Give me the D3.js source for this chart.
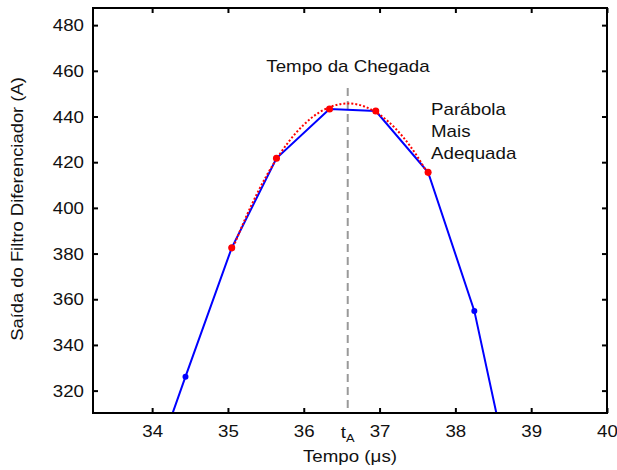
<!DOCTYPE html>
<html><head><meta charset="utf-8">
<script src="https://cdn.jsdelivr.net/npm/d3@7"></script>
<style>body{margin:0;background:#fff}svg{display:block;font-family:Arial,"Liberation Sans",sans-serif}</style>
</head><body>
<svg id="c" width="617" height="470"></svg>
<script>
// Sampled signal (blue)
const sampleTime = [33.80, 34.44, 35.05, 35.64, 36.34, 36.95, 37.64, 38.25, 38.90];
const sampleValue = [266, 326.1, 382.5, 421.7, 443.3, 442.4, 415.6, 354.9, 254.8];
// Points used for the parabola fit (red)
const fitTime = [35.05, 35.64, 36.34, 36.95, 37.64];
const fitValue = [382.5, 421.7, 443.3, 442.4, 415.6];
// Parabola curve (red dotted)
const curveTime = [35.05, 35.2, 35.4, 35.6, 35.8, 36.0, 36.2, 36.4, 36.58, 36.8, 37.0, 37.2, 37.4, 37.6, 37.66];
const curveValue = [381.1, 393.1, 407.3, 419.2, 428.9, 436.4, 441.7, 444.8, 445.7, 444.4, 440.8, 435.1, 427.2, 417.0, 413.5];
const arrivalTime = 36.58;
const xTicks = [34, 35, 36, 37, 38, 39, 40];
const yTicks = [320, 340, 360, 380, 400, 420, 440, 460, 480];
const annotation = ["Parábola", "Mais", "Adequada"];

const svg = d3.select("#c");
const L = 93, R = 607, T = 8, B = 413;
const SX = 1.17; // horizontal text stretch seen in the reference
const x = d3.scaleLinear().domain([33.22, 40]).range([L, R]);
const y = d3.scaleLinear().domain([310.2, 487.5]).range([B, T]);

function stretch(sel){
  sel.each(function(){
    const t = d3.select(this);
    const tx = +t.attr("x") || 0;
    t.attr("transform", `translate(${tx},0) scale(${SX},1) translate(${-tx},0)`);
  });
}

svg.append("defs").append("clipPath").attr("id","clip")
  .append("rect").attr("x",L).attr("y",T).attr("width",R-L).attr("height",B-T);

const fs = 16;
// axes
const gB = svg.append("g").attr("transform",`translate(0,${B})`)
  .call(d3.axisBottom(x).tickValues(xTicks).tickSize(-5).tickPadding(13).tickFormat(d3.format("d")));
const gT = svg.append("g").attr("transform",`translate(0,${T})`)
  .call(d3.axisTop(x).tickValues(xTicks).tickSize(-5).tickFormat(""));
const gL = svg.append("g").attr("transform",`translate(${L},0)`)
  .call(d3.axisLeft(y).tickValues(yTicks).tickSize(-5).tickPadding(9).tickFormat(d3.format("d")));
const gR = svg.append("g").attr("transform",`translate(${R},0)`)
  .call(d3.axisRight(y).tickValues(yTicks).tickSize(-5).tickFormat(""));
[gB,gT,gL,gR].forEach(g=>{
  g.select(".domain").remove();
  g.selectAll(".tick line").attr("stroke","#000").attr("stroke-width",2);
  g.selectAll("text").attr("font-size",fs).attr("font-family","Arial, 'Liberation Sans', sans-serif").attr("fill","#111");
});
gL.selectAll("text").attr("dy","0.35em");
stretch(gL.selectAll("text"));
stretch(gB.selectAll("text"));

// dashed arrival line
svg.append("line").attr("x1",x(arrivalTime)).attr("x2",x(arrivalTime))
  .attr("y1",88).attr("y2",B).attr("stroke","#999").attr("stroke-width",2)
  .attr("stroke-dasharray","8,5");

const plot = svg.append("g").attr("clip-path","url(#clip)");
const line = d3.line().x(d=>x(d[0])).y(d=>y(d[1]));
const sData = sampleTime.map((t,i)=>[t,sampleValue[i]]);
plot.append("path").datum(sData).attr("d",line).attr("fill","none")
  .attr("stroke","#0000ff").attr("stroke-width",2);
plot.selectAll(".bd").data(sData).join("circle").attr("cx",d=>x(d[0])).attr("cy",d=>y(d[1]))
  .attr("r",3).attr("fill","#0000ff");
const cData = curveTime.map((t,i)=>[t,curveValue[i]]);
plot.append("path").datum(cData).attr("d",d3.line().x(d=>x(d[0])).y(d=>y(d[1])).curve(d3.curveMonotoneX))
  .attr("fill","none").attr("stroke","#ff0000").attr("stroke-width",2).attr("stroke-dasharray","2,2");
const fData = fitTime.map((t,i)=>[t,fitValue[i]]);
plot.selectAll(".rd").data(fData).join("circle").attr("cx",d=>x(d[0])).attr("cy",d=>y(d[1]))
  .attr("r",3.5).attr("fill","#ff0000");

// frame
svg.append("rect").attr("x",L).attr("y",T).attr("width",R-L).attr("height",B-T)
  .attr("fill","none").attr("stroke","#000").attr("stroke-width",2);

// texts
const txt = [];
txt.push(svg.append("text").attr("x",348).attr("y",72).attr("text-anchor","middle").attr("font-size",fs).attr("fill","#111").text("Tempo da Chegada"));
annotation.forEach((s,i)=>txt.push(svg.append("text").attr("x",431).attr("y",115+i*22).attr("font-size",fs).attr("fill","#111").text(s)));
const ta = svg.append("text").attr("x",x(arrivalTime)).attr("y",438).attr("text-anchor","middle").attr("font-size",fs).attr("fill","#111");
ta.append("tspan").text("t");
ta.append("tspan").attr("font-size",11).attr("dy",4).text("A");
txt.push(ta);
txt.push(svg.append("text").attr("x",350).attr("y",462).attr("text-anchor","middle").attr("font-size",fs).attr("fill","#111").text("Tempo (μs)"));
txt.forEach(stretch);
svg.append("text").attr("transform","translate(23,209) rotate(-90) scale(1.15,1)").attr("text-anchor","middle").attr("font-size",fs).attr("fill","#111").text("Saída do Filtro Diferenciador (A)");
</script>
</body></html>
